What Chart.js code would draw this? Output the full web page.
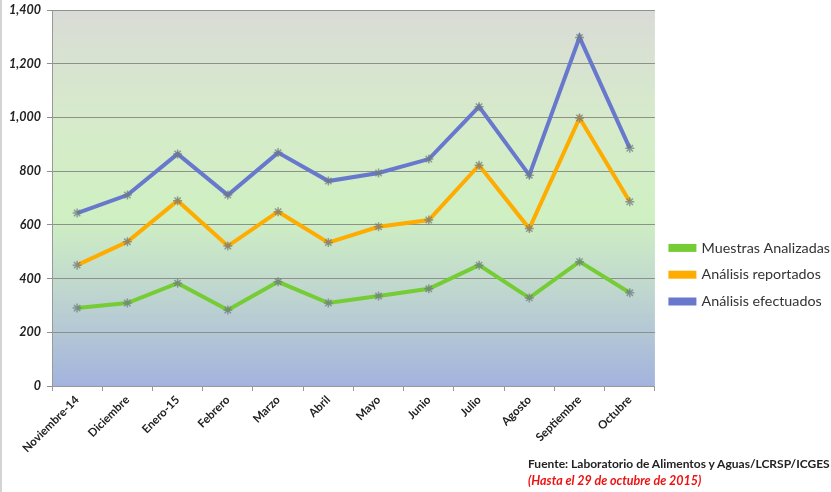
<!DOCTYPE html>
<html>
<head>
<meta charset="utf-8">
<script src="https://cdn.jsdelivr.net/npm/chart.js@4.4.1/dist/chart.umd.min.js"></script>
<style>
    html, body { margin: 0; padding: 0; background: #fff; }
    #wrap { position: relative; width: 831px; height: 492px; }
    #wrap canvas { position: absolute; left: 0; top: 0; }
    .edge { position: absolute; left: 0; top: 0; width: 2px; height: 492px; background: #d4d4d4; }
    .fuente { position: absolute; left: 528px; top: 456px; font: bold 12px Lato, sans-serif; color: #222; white-space: nowrap; }
    .hasta { position: absolute; left: 528px; top: 473px; font: italic bold 12.5px Lato, sans-serif; color: #ee1111; white-space: nowrap; }
</style>
</head>
<body>
<div id="wrap">
    <canvas id="chart" width="831" height="492"></canvas>
    <div class="edge"></div>
    <div class="fuente">Fuente: Laboratorio de Alimentos y Aguas/LCRSP/ICGES</div>
    <div class="hasta">(Hasta el 29 de octubre de 2015)</div>
</div>
<script>
const meses = ["Noviembre-14", "Diciembre", "Enero-15", "Febrero", "Marzo", "Abril",
    "Mayo", "Junio", "Julio", "Agosto", "Septiembre", "Octubre"];
const muestrasAnalizadas = [290, 309, 383, 283, 388, 309, 335, 362, 450, 328, 463, 347];
const analisisReportados = [450, 537, 690, 521, 649, 534, 593, 618, 822, 586, 998, 686];
const analisisEfectuados = [644, 711, 864, 711, 869, 763, 793, 845, 1040, 785, 1298, 885];
const yTicks = [0, 200, 400, 600, 800, 1000, 1200, 1400];

// fondo degradado del area del grafico
const plotBackground = {
    id: 'plotBackground',
    beforeDraw(chart) {
        const { ctx, chartArea: a } = chart;
        const g = ctx.createLinearGradient(0, a.top, 0, a.bottom);
        g.addColorStop(0, '#d9dbd6');
        g.addColorStop(0.3, '#d6ebca');
        g.addColorStop(0.55, '#cff0c2');
        g.addColorStop(0.75, '#bfd6cf');
        g.addColorStop(1, '#a3b3de');
        ctx.save();
        ctx.fillStyle = g;
        ctx.fillRect(a.left, a.top, a.right - a.left, a.bottom - a.top);
        ctx.restore();
    }
};

// separa un poco la leyenda del area del grafico
const legendShift = {
    id: 'legendShift',
    afterLayout(chart) {
        chart.legend.left += 3;
        chart.legend.right += 3;
    }
};

function serie(label, data, color) {
    return {
        label: label,
        data: data,
        borderColor: color,
        backgroundColor: color,
        borderWidth: 4,
        tension: 0,
        pointStyle: 'star',
        pointRadius: 4.5,
        pointBorderWidth: 1.5,
        pointBorderColor: 'rgba(110, 120, 130, 0.7)',
        pointBackgroundColor: color,
    };
}

const ctx = document.getElementById('chart').getContext('2d');
const chart = new Chart(ctx, {
    type: 'line',
    data: {
        labels: meses,
        datasets: [
            serie('Muestras Analizadas', muestrasAnalizadas, '#76cc34'),
            serie('Análisis reportados', analisisReportados, '#ffac00'),
            serie('Análisis efectuados', analisisEfectuados, '#6878cc'),
        ],
    },
    plugins: [plotBackground, legendShift],
    options: {
        responsive: false,
        animation: false,
        locale: 'en-US',
        layout: {
            padding: { top: 0, left: 0, right: -6, bottom: 0 },
        },
        scales: {
            x: {
                offset: true,
                grid: {
                    offset: true,
                    drawOnChartArea: false,
                    color: '#999',
                    tickLength: 5,
                },
                border: { color: '#999' },
                ticks: {
                    color: '#222',
                    minRotation: 45,
                    maxRotation: 45,
                    padding: 2,
                    font: { family: 'Lato', size: 11.5, weight: 'bold' },
                },
                afterFit(scale) { scale.height = 106; },
            },
            y: {
                min: 0,
                max: 1400,
                afterBuildTicks(scale) { scale.ticks = yTicks.map(v => ({ value: v })); },
                grid: {
                    color: '#8c918a',
                    tickLength: 5,
                },
                border: { color: '#999' },
                ticks: {
                    color: '#222',
                    padding: 6,
                    font: { family: 'Lato', size: 12.5, weight: 'bold', style: 'italic' },
                },
                afterFit(scale) {
                    scale.width = 52;
                    scale.paddingTop = 10;
                },
            },
        },
        plugins: {
            legend: {
                position: 'right',
                title: { display: true, text: '', font: { size: 12 }, padding: 21.5 },
                labels: {
                    color: '#333',
                    boxWidth: 24,
                    boxHeight: 4,
                    padding: 12.5,
                    font: { family: 'Lato', size: 14.3 },
                },
            },
            tooltip: { enabled: false },
        },
    },
});
</script>
</body>
</html>
